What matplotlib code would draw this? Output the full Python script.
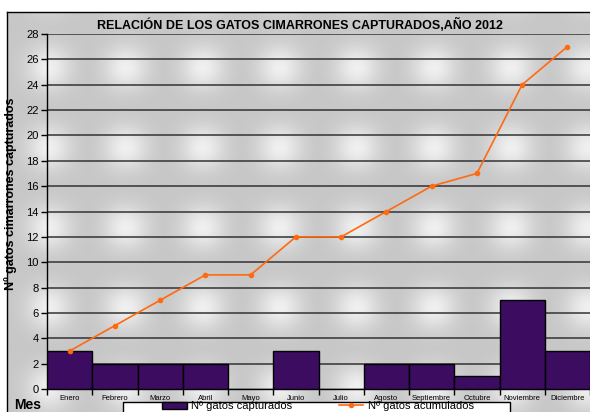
import numpy as np
import matplotlib
matplotlib.use("Agg")
import matplotlib.pyplot as plt
from matplotlib.patches import Rectangle

months = ["Enero", "Febrero", "Marzo", "Abril", "Mayo", "Junio", "Julio",
          "Agosto", "Septiembre", "Octubre", "Noviembre", "Diciembre"]
capturados = [3, 2, 2, 2, 0, 3, 0, 2, 2, 1, 7, 3]
acumulados = [3, 5, 7, 9, 9, 12, 12, 14, 16, 17, 24, 27]
yticks = list(range(0, 29, 2))

plt.rcParams['font.family'] = ['Liberation Sans', 'DejaVu Sans']

W, H = 590, 412
fig = plt.figure(figsize=(W / 100, H / 100), dpi=100)

# background (decorative gradient pattern)
bg = fig.add_axes([0, 0, 1, 1], zorder=-5)
bg.set_axis_off()
yy, xx = np.mgrid[0:H, 0:W].astype(float)
Tx, Ty = 77.0, 80.0
dx = (xx - 10) % Tx - Tx / 2
dy = (yy - 107) % Ty - Ty / 2
val = 0.78 + 0.16 * np.exp(-((dx / 22) ** 2 + (dy / 22) ** 2))
img = np.stack([val, val, val], axis=-1)
mask = (xx < 7) | (yy < 12)
img[mask] = 1.0
bg.imshow(img, extent=[0, 1, 0, 1], aspect='auto', origin='upper')
bg.set_xlim(0, 1)
bg.set_ylim(0, 1)
bg.plot([7 / W, 7 / W], [0, 1 - 12 / H], color='black', lw=1)
bg.plot([7 / W, 1], [1 - 12 / H, 1 - 12 / H], color='black', lw=1)
# legend box
bg.add_patch(Rectangle((123 / W, -0.01), (510 - 123) / W, 0.01 + 10 / H,
                       facecolor='white', edgecolor='black', lw=1, zorder=5))

ax = fig.add_axes([47 / W, 1 - 389 / H, (W - 47) / W, (389 - 34) / H])
ax.set_facecolor('none')
x = np.arange(len(months))
bars = ax.bar(x, capturados, width=1.0, color='#3b0c60', edgecolor='black',
              linewidth=1.0, zorder=3, label='Nº gatos capturados')
line, = ax.plot(x, acumulados, color='#ff6a10', lw=1.2, marker='o', ms=3,
                zorder=4, label='Nº gatos acumulados')

ax.set_xlim(-0.5, 11.5)
ax.set_ylim(0, 28)
ax.set_yticks(yticks)
ax.set_yticklabels([str(v) for v in yticks], fontsize=8)
for v in yticks[1:]:
    ax.axhline(v, color='#333333', lw=1.1, zorder=2)
ax.set_xticks(x)
ax.set_xticklabels(months, fontsize=5.5)
ax.set_xticks(np.arange(-0.5, 12, 1), minor=True)
ax.tick_params(axis='x', which='major', length=0, pad=4)
ax.tick_params(axis='x', which='minor', length=4, width=1)
ax.tick_params(axis='y', length=4, width=1, pad=2)
for s in ['top', 'right']:
    ax.spines[s].set_visible(False)
ax.spines['left'].set_linewidth(1)
ax.spines['bottom'].set_linewidth(1)

ax.set_ylabel('Nº gatos cimarrones capturados', fontsize=9, fontweight='bold')
ax.yaxis.set_label_coords((17 - 47) / (W - 47), 0.55)
fig.text(300 / W, 1 - 25 / H, 'RELACIÓN DE LOS GATOS CIMARRONES CAPTURADOS,AÑO 2012',
         ha='center', va='center', fontsize=9, fontweight='bold')
fig.text(14 / W, 1 - 405 / H, 'Mes', ha='left', va='center', fontsize=10,
         fontweight='bold')

leg = fig.legend([bars, line], ['Nº gatos capturados', 'Nº gatos acumulados'],
                 loc='upper center', bbox_to_anchor=(318 / W, 11 / H),
                 ncol=2, fontsize=8, frameon=False, handlelength=2.2,
                 handleheight=0.6, handletextpad=0.4, columnspacing=4.2,
                 borderpad=0.0, borderaxespad=0.0)

fig.savefig('out.png', dpi=100)
